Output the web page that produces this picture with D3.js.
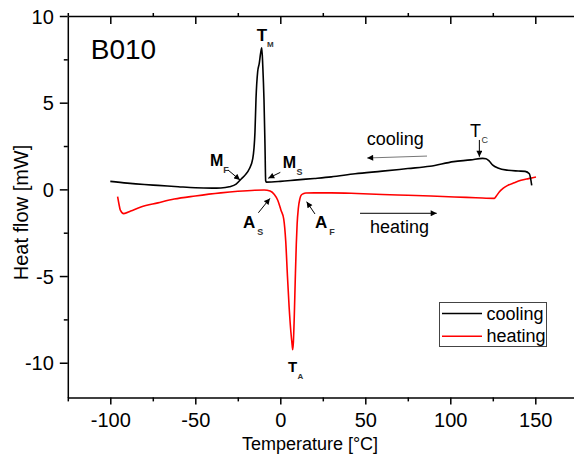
<!DOCTYPE html>
<html>
<head>
<meta charset="utf-8">
<script src="https://cdn.jsdelivr.net/npm/d3@7"></script>
<style>
  html, body { margin: 0; padding: 0; background: #fff; }
  svg { display: block; font-family: "Liberation Sans", Arial, sans-serif; }
</style>
</head>
<body>
<svg id="chart" width="574" height="456"></svg>
<script>
// ---------- data ----------
const coolingT = [-100, -90, -80, -72, -60, -50, -40, -35, -30, -26, -23, -20.5, -18.2, -16.2, -14.9, -14.3, -13.3, -12.4, -11.5, -10.9, -10.3, -9.6, -9.0, -8.6, -8.2, 0, 10, 20, 30, 44, 60, 75, 88, 102, 112, 119, 121, 123, 125, 128, 134, 140, 144, 146.5, 147.9];
const coolingV = [0.46, 0.36, 0.28, 0.23, 0.15, 0.09, 0.07, 0.08, 0.15, 0.3, 0.6, 0.85, 1.19, 1.77, 3.3, 5.2, 6.8, 7.25, 7.9, 8.16, 7.1, 5.2, 2.5, 0.5, 0.42, 0.46, 0.55, 0.63, 0.72, 0.9, 1.05, 1.2, 1.33, 1.6, 1.7, 1.79, 1.77, 1.62, 1.4, 1.23, 1.1, 1.06, 1.04, 0.9, 0.23];

const heatingT = [-95.7, -94.8, -94.1, -92.1, -88, -82, -72, -62.4, -50, -35, -25, -15, -9.5, -6, -3.5, -1.5, 0.4, 2, 3.2, 4.2, 5.2, 6.2, 7.0, 7.3, 7.7, 8.2, 8.8, 9.4, 9.9, 10.6, 11.5, 12.2, 13.5, 15.1, 20, 30, 45, 60, 75, 88.6, 102.4, 115, 125.9, 127, 128.8, 131, 133.8, 137.6, 141.6, 146, 150.4];
const heatingV = [-0.42, -0.9, -1.2, -1.4, -1.25, -1.02, -0.78, -0.56, -0.38, -0.2, -0.11, -0.05, -0.04, -0.1, -0.3, -0.63, -1.2, -1.7, -3.0, -5.0, -6.8, -8.2, -9.0, -9.25, -8.8, -7.4, -5.2, -3.2, -2.0, -1.1, -0.55, -0.35, -0.25, -0.21, -0.2, -0.2, -0.24, -0.3, -0.34, -0.38, -0.44, -0.48, -0.52, -0.4, -0.15, 0.05, 0.23, 0.38, 0.52, 0.62, 0.71];

const xMajorTicks = [-100, -50, 0, 50, 100, 150];
const xMinorTicks = [-125, -75, -25, 25, 75, 125, 175];
const yMajorTicks = [-10, -5, 0, 5, 10];
const yMinorTicks = [-7.5, -2.5, 2.5, 7.5];

const seriesNames = ["cooling", "heating"];
const seriesColors = ["#000000", "#ff0000"];
const sampleName = "B010";
const xTitle = "Temperature [°C]";
const yTitle = "Heat flow [mW]";

// ---------- layout ----------
const svg = d3.select("#chart");
const x = d3.scaleLinear().domain([-125, 175]).range([67.8, 577.8]);
const y = d3.scaleLinear().domain([-12, 10]).range([397.4, 16]);
const fmt = d => String(d);

// markers
const defs = svg.append("defs");
defs.append("marker").attr("id", "ah")
  .attr("viewBox", "0 0 10 10").attr("refX", 10).attr("refY", 5)
  .attr("markerWidth", 7).attr("markerHeight", 6)
  .attr("markerUnits", "userSpaceOnUse").attr("orient", "auto")
  .append("path").attr("d", "M0,0 L10,5 L0,10 z").attr("fill", "#000");

// ---------- axes ----------
function styleAxis(g) {
  g.selectAll("path.domain").attr("stroke", "#000").attr("stroke-width", 1.5);
  g.selectAll(".tick line").attr("stroke", "#000").attr("stroke-width", 1.5);
  g.selectAll("text").attr("font-family", '"Liberation Sans", Arial, sans-serif').attr("fill", "#000");
}
const y0 = y.range()[0], y1 = y.range()[1];
const x0 = x.range()[0];

// bottom
const gb = svg.append("g").attr("transform", `translate(0,${y0})`)
  .call(d3.axisBottom(x).tickValues(xMajorTicks).tickSize(7).tickSizeOuter(0).tickFormat(fmt));
gb.selectAll("text").attr("font-size", 20).attr("y", 30).attr("dy", null);
styleAxis(gb);
const gbm = svg.append("g").attr("transform", `translate(0,${y0})`)
  .call(d3.axisBottom(x).tickValues(xMinorTicks).tickSize(4).tickSizeOuter(0).tickFormat(""));
gbm.select("path.domain").remove();
styleAxis(gbm);

// top
const gt = svg.append("g").attr("transform", `translate(0,${y1})`)
  .call(d3.axisTop(x).tickValues(xMajorTicks).tickSize(-8).tickSizeOuter(0).tickFormat(""));
styleAxis(gt);
const gtm = svg.append("g").attr("transform", `translate(0,${y1})`)
  .call(d3.axisTop(x).tickValues(xMinorTicks).tickSize(3).tickSizeOuter(0).tickFormat(""));
gtm.select("path.domain").remove();
styleAxis(gtm);

// left
const gl = svg.append("g").attr("transform", `translate(${x0},0)`)
  .call(d3.axisLeft(y).tickValues(yMajorTicks).tickSize(8).tickPadding(6).tickSizeOuter(0).tickFormat(fmt));
gl.selectAll("text").attr("font-size", 20).attr("dy", "0.35em");
styleAxis(gl);
const glm = svg.append("g").attr("transform", `translate(${x0},0)`)
  .call(d3.axisLeft(y).tickValues(yMinorTicks).tickSize(4).tickSizeOuter(0).tickFormat(""));
glm.select("path.domain").remove();
styleAxis(glm);

// titles
svg.append("text").attr("x", 310).attr("y", 450).attr("text-anchor", "middle")
  .attr("font-size", 18).text(xTitle);
svg.append("text").attr("transform", "translate(27.5,212.5) rotate(-90)")
  .attr("text-anchor", "middle").attr("font-size", 20).text(yTitle);

// ---------- curves ----------
const line = d3.line().x(d => x(d[0])).y(d => y(d[1])).curve(d3.curveMonotoneX);
const cooling = coolingT.map((t, i) => [t, coolingV[i]]);
const heating = heatingT.map((t, i) => [t, heatingV[i]]);
svg.append("path").datum(heating).attr("d", line).attr("fill", "none")
  .attr("stroke", seriesColors[1]).attr("stroke-width", 1.6).attr("stroke-linejoin", "round");
svg.append("path").datum(cooling).attr("d", line).attr("fill", "none")
  .attr("stroke", seriesColors[0]).attr("stroke-width", 1.6).attr("stroke-linejoin", "round");

// ---------- annotations ----------
svg.append("text").attr("x", x(-111.5)).attr("y", y(7.5)).attr("font-size", 28).text(sampleName);

function label(T, V, main, sub, opts) {
  const t = svg.append("text").attr("x", x(T)).attr("y", y(V))
    .attr("font-size", opts.size).attr("font-weight", opts.bold ? "bold" : "normal").attr("fill", "#000");
  t.append("tspan").text(main);
  t.append("tspan").attr("dx", opts.dx || 0).attr("dy", opts.dy)
    .attr("font-size", opts.sub).attr("fill", "#333").attr("font-weight", opts.bold ? "bold" : "normal").text(sub);
}
function arrow(Ta, Va, Tb, Vb, color) {
  svg.append("line").attr("x1", x(Ta)).attr("y1", y(Va)).attr("x2", x(Tb)).attr("y2", y(Vb))
    .attr("stroke", color || "#000").attr("stroke-width", 1).attr("marker-end", "url(#ah)");
}

label(-13.9, 8.58, "T", "M", { size: 17, sub: 8, bold: true, dy: 6.6 });
label(-41.4, 1.36, "M", "F", { size: 16, sub: 9, bold: true, dy: 7.3 });
arrow(-30.8, 1.12, -23.7, 0.54);
label(1.4, 1.21, "M", "S", { size: 16, sub: 9, bold: true, dy: 6.7, dx: 0.5 });
arrow(0, 0.98, -7.1, 0.64);
label(-21.9, -2.23, "A", "S", { size: 17, sub: 9, bold: true, dy: 7, dx: 2 });
arrow(-12.9, -1.35, -6.1, -0.52);
label(20.4, -2.23, "A", "F", { size: 17, sub: 9, bold: true, dy: 7, dx: 2 });
arrow(20.4, -1.42, 15.5, -0.71);
label(4.5, -10.52, "T", "A", { size: 15, sub: 8, bold: true, dy: 7.3, dx: 0.5 });
label(111.6, 3.04, "T", "C", { size: 18, sub: 9, bold: false, dy: 6.6, dx: 0.5 });
arrow(117.1, 2.85, 117.1, 1.88);

svg.append("text").attr("x", x(50.8)).attr("y", y(2.56)).attr("font-size", 18).text(seriesNames[0]);
arrow(86.3, 1.92, 51.1, 1.81, "#777");
svg.append("text").attr("x", x(52.8)).attr("y", y(-2.52)).attr("font-size", 18).text(seriesNames[1]);
arrow(46.9, -1.38, 92, -1.38);

// ---------- legend ----------
const lg = svg.append("g").attr("transform", "translate(439.5,302.5)");
lg.append("rect").attr("width", 107).attr("height", 44).attr("fill", "#fff")
  .attr("stroke", "#444").attr("stroke-width", 1);
seriesNames.forEach((name, i) => {
  const cy = 11 + i * 22.7;
  lg.append("line").attr("x1", 2.5).attr("x2", 42.5).attr("y1", cy).attr("y2", cy)
    .attr("stroke", seriesColors[i]).attr("stroke-width", 1.6);
  lg.append("text").attr("x", 47).attr("y", cy + 6).attr("font-size", 18).text(name);
});
</script>
</body>
</html>
